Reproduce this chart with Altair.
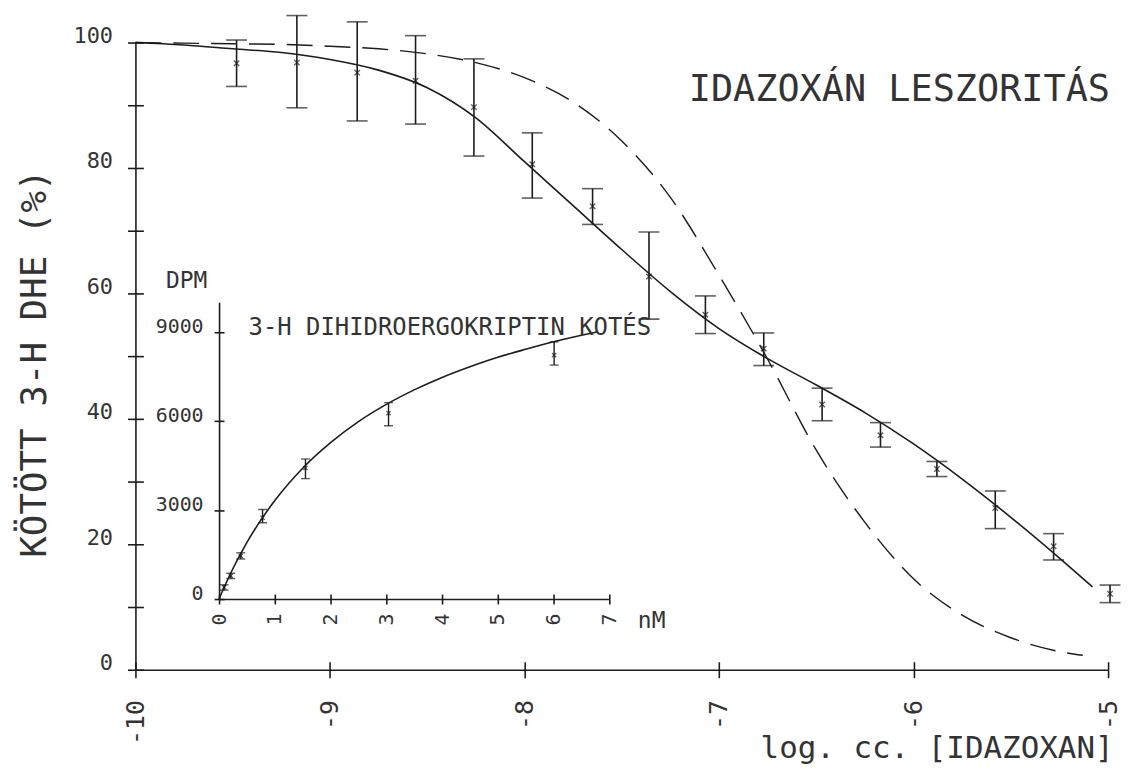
import altair as alt
import pandas as pd

# ---------------- main panel data (log concentration vs. bound %) ----------------
log_cc = [-9.48, -9.17, -8.86, -8.56, -8.26, -7.96, -7.65, -7.36,
          -7.07, -6.77, -6.47, -6.17, -5.88, -5.58, -5.28, -4.99]
bound_pct = [96.7, 96.8, 95.2, 93.9, 89.7, 80.6, 73.9, 62.7,
             56.6, 51.2, 42.3, 37.4, 32.0, 25.8, 19.7, 12.1]
bound_lo = [93.0, 89.6, 87.5, 87.0, 81.9, 75.2, 71.0, 55.9,
            53.6, 48.5, 39.7, 35.5, 30.8, 22.5, 17.5, 10.7]
bound_hi = [100.4, 104.3, 103.3, 101.1, 97.4, 85.6, 76.7, 69.8,
            59.6, 53.7, 44.9, 39.4, 33.2, 28.5, 21.7, 13.5]

# two-site fit (solid line)
fit_x = [-10.0, -9.75, -9.5, -9.25, -9.0, -8.75, -8.5, -8.25, -8.0, -7.75, -7.5,
         -7.25, -7.0, -6.75, -6.5, -6.25, -6.0, -5.75, -5.5, -5.25, -5.08]
fit_two_site = [100, 99.6, 99.0, 98.4, 97.3, 95.6, 92.8, 88.0, 81.0, 74.0, 67.0,
                60.3, 54.4, 49.6, 45.4, 41.0, 36.0, 30.4, 24.3, 17.8, 13.2]
# one-site curve (dashed line)
dash_x = [-10.0, -9.75, -9.5, -9.25, -9.0, -8.75, -8.5, -8.25, -8.0, -7.75, -7.5,
          -7.25, -7.0, -6.75, -6.5, -6.25, -6.0, -5.75, -5.5, -5.25, -5.13]
fit_one_site = [100, 99.9, 99.8, 99.7, 99.4, 99.0, 98.2, 96.8, 94.4, 90.5, 84.3,
                75.3, 62.9, 49.5, 35.0, 23.5, 14.5, 8.7, 5.1, 2.9, 2.3]

main_x_ticks = [-10, -9, -8, -7, -6, -5]
main_y_ticks = [0, 10, 20, 30, 40, 50, 60, 70, 80, 90, 100]

title_text = ["IDAZOXÁN LESZORITÁS"]
title_x = [-4.99]
title_y = [92.4]

# ---------------- inset data (saturation binding) ----------------
nm = [0.09, 0.21, 0.39, 0.78, 1.55, 3.04, 6.01]
dpm = [392, 782, 1453, 2742, 4419, 6264, 8221]
dpm_lo = [300, 690, 1350, 2573, 4060, 5839, 7886]
dpm_hi = [480, 870, 1560, 3020, 4721, 6620, 8668]

sat_nm = [0, 0.1, 0.25, 0.5, 0.75, 1.0, 1.5, 2.0, 2.5, 3.0, 3.5, 4.0,
          4.5, 5.0, 5.5, 6.0, 6.5, 6.8]
sat_dpm = [0, 430, 1030, 1910, 2660, 3320, 4410, 5270, 5980, 6560, 7050, 7470,
           7830, 8150, 8420, 8670, 8890, 9010]

inset_x_ticks = [0, 1, 2, 3, 4, 5, 6, 7]
inset_y_ticks = [0, 3000, 6000, 9000]

inset_text = ["3-H DIHIDROERGOKRIPTIN KOTÉS"]
inset_text_x = [0.53]
inset_text_y = [9150]

# ---------------- tables ----------------
pts = pd.DataFrame({"x": log_cc, "y": bound_pct, "lo": bound_lo, "hi": bound_hi})
fit = pd.DataFrame({"x": fit_x, "two": fit_two_site})
dfit = pd.DataFrame({"x": dash_x, "one": fit_one_site})
ttl = pd.DataFrame({"x": title_x, "y": title_y, "t": title_text})
ipts = pd.DataFrame({"x": nm, "y": dpm, "lo": dpm_lo, "hi": dpm_hi})
isat = pd.DataFrame({"x": sat_nm, "y": sat_dpm})
ittl = pd.DataFrame({"x": inset_text_x, "y": inset_text_y, "t": inset_text})

INK = "#1c1c1c"
TXT = "#333333"
FONT = "DejaVu Sans Mono"
CROSS = "M-1,-1L1,1M-1,1L1,-1"

W, H = 977, 630

# ---------------- main scales / axes ----------------
xs = alt.Scale(domain=[-10, -5], nice=False, zero=False)
ys = alt.Scale(domain=[0, 100], nice=False, zero=False)

xaxis = alt.Axis(orient="bottom", values=main_x_ticks, labelAngle=-90,
                 labelFontSize=25, labelExpr="'' + datum.value",
                 labelPadding=22, tickSize=8,
                 title="log. cc. [IDAZOXAN]", titleFontSize=31, titleX=982,
                 titleY=79, titleAlign="right", titleBaseline="middle",
                 titleAngle=0)
yaxis = alt.Axis(orient="left", values=main_y_ticks, labelFontSize=22,
                 labelExpr="datum.value % 20 == 0 ? datum.label : ''",
                 labelPadding=15, labelOffset=-7, tickSize=8,
                 title="KÖTÖTT 3-H DHE (%)", titleFontSize=36, titleX=-101,
                 titleY=322, titleAlign="center", titleBaseline="middle",
                 titleAngle=-90)
# inner halves of the crossing tick marks
xin = alt.Axis(orient="bottom", offset=-8, values=main_x_ticks, domain=False,
               labels=False, title="", tickSize=8)
yin = alt.Axis(orient="left", offset=-8, values=main_y_ticks, domain=False,
               labels=False, title="", tickSize=8)

solid = alt.Chart(fit).mark_line(color=INK, strokeWidth=1.6,
                                 interpolate="monotone").encode(
    x=alt.X("x:Q", scale=xs, axis=xaxis),
    y=alt.Y("two:Q", scale=ys, axis=yaxis))
ticks_in = alt.Chart(fit).mark_line(strokeOpacity=0).encode(
    x=alt.X("x:Q", scale=xs, axis=xin),
    y=alt.Y("two:Q", scale=ys, axis=yin))
dashed = alt.Chart(dfit).mark_line(color=INK, strokeWidth=1.4,
                                   strokeDash=[26, 12],
                                   interpolate="monotone").encode(
    x=alt.X("x:Q", scale=xs, axis=None),
    y=alt.Y("one:Q", scale=ys, axis=None))
ebars = alt.Chart(pts).mark_errorbar(
    ticks={"size": 21, "thickness": 1.6, "color": INK},
    rule={"strokeWidth": 1.6, "color": INK}, color=INK).encode(
    x=alt.X("x:Q", scale=xs, axis=None),
    y=alt.Y("lo:Q", scale=ys, axis=None), y2="hi:Q")
marks = alt.Chart(pts).mark_point(shape=CROSS, size=30, filled=False,
                                  strokeWidth=1.4, color=INK).encode(
    x=alt.X("x:Q", scale=xs, axis=None),
    y=alt.Y("y:Q", scale=ys, axis=None))
title = alt.Chart(ttl).mark_text(font=FONT, fontSize=37, align="right",
                                 baseline="middle", color=TXT).encode(
    x=alt.X("x:Q", scale=xs, axis=None),
    y=alt.Y("y:Q", scale=ys, axis=None), text="t:N")

main = alt.layer(solid, ticks_in, dashed, ebars, marks, title).resolve_axis(
    x="independent", y="independent")

# ---------------- inset scales / axes ----------------
ixs = alt.Scale(domain=[0, 7], range=[84, 476], nice=False, zero=False)
iys = alt.Scale(domain=[0, 10000], range=[559, 261], nice=False, zero=False)

ixaxis = alt.Axis(orient="bottom", offset=-71, values=inset_x_ticks,
                  labelAngle=-90, labelFontSize=20, labelPadding=9, tickSize=5,
                  title="nM", titleFontSize=23, titleAngle=0, titleX=518,
                  titleY=22, titleAlign="center", titleBaseline="middle")
iyaxis = alt.Axis(orient="left", offset=-84, values=inset_y_ticks,
                  format="d", labelFontSize=20, labelPadding=11,
                  labelOffset=-6, tickSize=5, title="DPM", titleFontSize=23,
                  titleAngle=0, titleX=-33, titleY=239, titleAlign="center",
                  titleBaseline="middle")
ixin = alt.Axis(orient="bottom", offset=-76, values=inset_x_ticks,
                domain=False, labels=False, title="", tickSize=5)
iyin = alt.Axis(orient="left", offset=-89, values=inset_y_ticks,
                domain=False, labels=False, title="", tickSize=5)

icurve = alt.Chart(isat).mark_line(color=INK, strokeWidth=1.6,
                                   interpolate="monotone").encode(
    x=alt.X("x:Q", scale=ixs, axis=ixaxis),
    y=alt.Y("y:Q", scale=iys, axis=iyaxis))
iticks_in = alt.Chart(isat).mark_line(strokeOpacity=0).encode(
    x=alt.X("x:Q", scale=ixs, axis=ixin),
    y=alt.Y("y:Q", scale=iys, axis=iyin))
iebars = alt.Chart(ipts).mark_errorbar(
    ticks={"size": 9, "thickness": 1.4, "color": INK},
    rule={"strokeWidth": 1.4, "color": INK}, color=INK).encode(
    x=alt.X("x:Q", scale=ixs, axis=None),
    y=alt.Y("lo:Q", scale=iys, axis=None), y2="hi:Q")
imarks = alt.Chart(ipts).mark_point(shape=CROSS, size=18, filled=False,
                                    strokeWidth=1.3, color=INK).encode(
    x=alt.X("x:Q", scale=ixs, axis=None),
    y=alt.Y("y:Q", scale=iys, axis=None))
ititle = alt.Chart(ittl).mark_text(font=FONT, fontSize=24, align="left",
                                   baseline="middle", color=TXT).encode(
    x=alt.X("x:Q", scale=ixs, axis=None),
    y=alt.Y("y:Q", scale=iys, axis=None), text="t:N")

inset = alt.layer(icurve, iticks_in, iebars, imarks, ititle).resolve_axis(
    x="independent", y="independent")

chart = alt.layer(main, inset).resolve_scale(
    x="independent", y="independent"
).properties(
    width=W, height=H,
    autosize=alt.AutoSizeParams(type="none"),
    padding={"left": 128, "top": 33, "right": 17, "bottom": 93},
    background="white",
).configure_view(stroke=None).configure_axis(
    labelFont=FONT, titleFont=FONT, labelColor=TXT, titleColor=TXT,
    titleFontWeight="normal", domainColor=INK, tickColor=INK,
    domainWidth=1.6, tickWidth=1.6, grid=False,
)

chart.save("out.html", embed_options={"renderer": "svg", "actions": False})
